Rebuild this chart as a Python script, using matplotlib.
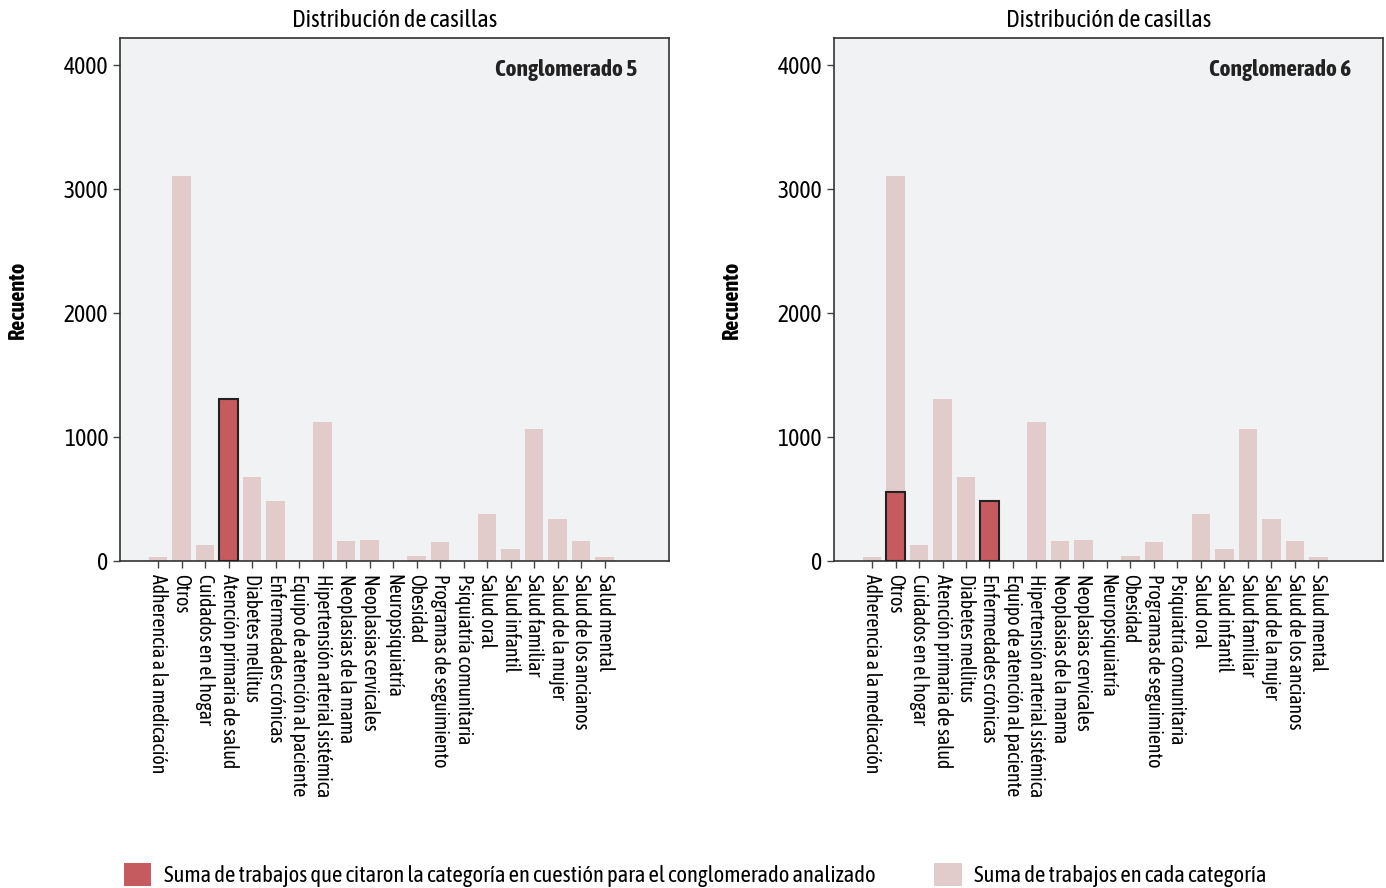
import matplotlib
matplotlib.use("Agg")
import matplotlib.pyplot as plt
from matplotlib import font_manager
from matplotlib.patches import Patch
import numpy as np

# pick a narrow face (ideally one that also has a bold weight)
fonts = font_manager.fontManager.ttflist
narrow = sorted({f.name for f in fonts if "Narrow" in f.name or "Condensed" in f.name})


def has_bold(name):
    return any(f.name == name and (f.weight in ("bold", 700) or str(f.weight) == "700") for f in fonts)


FONT = "DejaVu Sans"
if narrow:
    with_bold = [n for n in narrow if has_bold(n)]
    FONT = (with_bold or narrow)[0]
plt.rcParams["font.family"] = [FONT, "DejaVu Sans"]

categories = [
    "Adherencia a la medicación", "Otros", "Cuidados en el hogar",
    "Atención primaria de salud", "Diabetes mellitus", "Enfermedades crónicas",
    "Equipo de atención al paciente", "Hipertensión arterial sistémica",
    "Neoplasias de la mama", "Neoplasias cervicales", "Neuropsiquiatría",
    "Obesidad", "Programas de seguimiento", "Psiquiatría comunitaria",
    "Salud oral", "Salud infantil", "Salud familiar", "Salud de la mujer",
    "Salud de los ancianos", "Salud mental",
]
totals = [32, 3110, 130, 1305, 680, 485, 8, 1120, 160, 170, 0,
          40, 155, 0, 380, 95, 1065, 340, 160, 32]
cluster5 = {"Atención primaria de salud": 1305}
cluster6 = {"Otros": 555, "Enfermedades crónicas": 485}
panels = [("Conglomerado 5", cluster5), ("Conglomerado 6", cluster6)]

LIGHT = "#e1cbcb"
RED = "#c65b5f"
BG = "#f1f2f4"

fig = plt.figure(figsize=(13.86, 8.88), dpi=100)
lefts = [0.0866, 0.6017]
x = np.arange(len(categories))

for left, (name, hits) in zip(lefts, panels):
    ax = fig.add_axes([left, 0.368, 0.396, 0.589])
    ax.set_facecolor(BG)
    ax.bar(x, totals, width=0.8, color=LIGHT, zorder=2)
    idx = [categories.index(c) for c in hits]
    ax.bar(idx, list(hits.values()), width=0.8, color=RED,
           edgecolor="#222222", linewidth=1.5, zorder=3)
    ax.set_xlim(-1.62, 21.74)
    ax.set_ylim(0, 4220)
    ax.set_yticks([0, 1000, 2000, 3000, 4000])
    ax.set_xticks(x)
    ax.set_xticklabels(categories, rotation=270, fontsize=14.2, va="top", ha="center")
    ax.tick_params(axis="y", labelsize=17, length=5, width=1, color="#444444")
    ax.tick_params(axis="x", length=5, width=1, color="#444444", pad=4)
    for s in ax.spines.values():
        s.set_color("#333333")
        s.set_linewidth(1.2)
    ax.set_title("Distribución de casillas", fontsize=17.5, pad=8)
    ax.set_ylabel("Recuento", fontsize=16, fontweight="bold")
    ax.yaxis.set_label_coords(-0.166, 0.5)
    ax.text(0.943, 0.94, name, transform=ax.transAxes, ha="right", va="center",
            fontsize=16.8, fontweight="bold", color="#222222")

handles = [
    Patch(facecolor=RED, edgecolor="none",
          label="Suma de trabajos que citaron la categoría en cuestión para el conglomerado analizado"),
    Patch(facecolor=LIGHT, edgecolor="none", label="Suma de trabajos en cada categoría"),
]
fig.legend(handles=handles, loc="lower left", bbox_to_anchor=(0.075, -0.022), ncol=2,
           frameon=False, fontsize=16.3, handlelength=1.2, handleheight=1.2,
           handletextpad=0.55, columnspacing=2.6)

fig.savefig("out.png", dpi=100)
